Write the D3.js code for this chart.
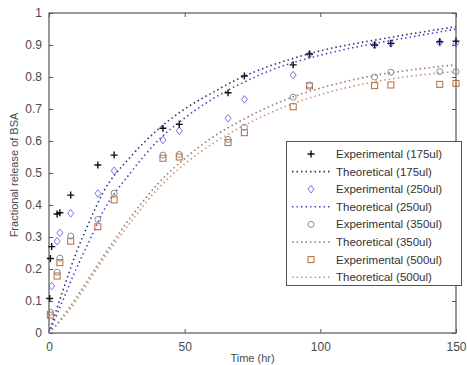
<!DOCTYPE html>
<html><head><meta charset="utf-8">
<script src="https://cdn.jsdelivr.net/npm/d3@7"></script>
<style>body{margin:0;background:#fff}svg{display:block;font-family:"Liberation Sans",Arial,sans-serif}</style>
</head><body><svg id="c" width="467" height="365"></svg>
<script>
// ---- data ----
const xTicks = [0, 50, 100, 150];
const yTicks = [0, 0.1, 0.2, 0.3, 0.4, 0.5, 0.6, 0.7, 0.8, 0.9, 1];
const yTickLabels = ["0", "0.1", "0.2", "0.3", "0.4", "0.5", "0.6", "0.7", "0.8", "0.9", "1"];

const exp175T = [0.25, 0.5, 1, 3, 4, 8, 18, 24, 42, 48, 66, 72, 90, 96, 120, 126, 144, 150];
const exp175V = [0.108, 0.233, 0.27, 0.372, 0.376, 0.431, 0.525, 0.556, 0.64, 0.652, 0.751, 0.803, 0.838, 0.872, 0.90, 0.905, 0.91, 0.912];
const exp250T = [1, 3, 4, 8, 18, 24, 42, 48, 66, 72, 90, 96, 120, 126, 144, 150];
const exp250V = [0.147, 0.287, 0.313, 0.374, 0.436, 0.507, 0.603, 0.632, 0.671, 0.73, 0.806, 0.87, 0.90, 0.905, 0.908, 0.905];
const exp350T = [0.5, 3, 4, 8, 18, 24, 42, 48, 66, 72, 90, 96, 120, 126, 144, 150];
const exp350V = [0.065, 0.19, 0.234, 0.303, 0.355, 0.437, 0.556, 0.558, 0.605, 0.643, 0.737, 0.775, 0.80, 0.815, 0.817, 0.817];
const exp500T = [0.5, 3, 4, 8, 18, 24, 42, 48, 66, 72, 90, 96, 120, 126, 144, 150];
const exp500V = [0.056, 0.178, 0.22, 0.287, 0.332, 0.416, 0.546, 0.55, 0.595, 0.626, 0.707, 0.772, 0.773, 0.775, 0.777, 0.78];

const thT = [0, 5, 10, 15, 20, 30, 40, 50, 60, 70, 80, 90, 100, 110, 120, 130, 140, 150];
const th175V = [0, 0.13, 0.25, 0.35, 0.44, 0.55, 0.635, 0.70, 0.75, 0.795, 0.83, 0.858, 0.882, 0.90, 0.915, 0.93, 0.944, 0.957];
const th250V = [0, 0.10, 0.20, 0.29, 0.38, 0.50, 0.60, 0.672, 0.73, 0.776, 0.815, 0.845, 0.868, 0.888, 0.905, 0.92, 0.935, 0.95];
const th350V = [0, 0.05, 0.11, 0.175, 0.24, 0.36, 0.465, 0.545, 0.61, 0.66, 0.703, 0.738, 0.765, 0.787, 0.805, 0.818, 0.829, 0.838];
const th500V = [0, 0.045, 0.10, 0.165, 0.23, 0.345, 0.45, 0.528, 0.59, 0.64, 0.682, 0.717, 0.745, 0.767, 0.785, 0.799, 0.809, 0.817];

const legendLabels = ["Experimental (175ul)", "Theoretical (175ul)", "Experimental (250ul)", "Theoretical (250ul)",
  "Experimental (350ul)", "Theoretical (350ul)", "Experimental (500ul)", "Theoretical (500ul)"];

// ---- styles ----
const colExp = {"175": "#111111", "250": "#7474ea", "350": "#8c8c8c", "500": "#b86a38"};
const colTh = {"175": "#34346e", "250": "#4646d2", "350": "#808080", "500": "#d4926a"};

const svg = d3.select("#c");
const L = 49, R = 456, T = 13, B = 333;
const x = d3.scaleLinear().domain([0, 150]).range([L, R]);
const y = d3.scaleLinear().domain([0, 1]).range([B, T]);
const axCol = "#555";

// axes box
svg.append("rect").attr("x", L).attr("y", T).attr("width", R - L).attr("height", B - T)
  .attr("fill", "none").attr("stroke", axCol).attr("stroke-width", 1.2);

const gx = svg.append("g").attr("transform", `translate(0,${B})`)
  .call(d3.axisBottom(x).tickValues(xTicks).tickSize(-4).tickPadding(9));
const gxt = svg.append("g").attr("transform", `translate(0,${T})`)
  .call(d3.axisTop(x).tickValues(xTicks).tickSize(-4).tickFormat(""));
const gy = svg.append("g").attr("transform", `translate(${L},0)`)
  .call(d3.axisLeft(y).tickValues(yTicks).tickSize(-4).tickPadding(7).tickFormat((d, i) => yTickLabels[i]));
const gyr = svg.append("g").attr("transform", `translate(${R},0)`)
  .call(d3.axisRight(y).tickValues(yTicks).tickSize(-4).tickFormat(""));
[gx, gxt, gy, gyr].forEach(g => {
  g.select(".domain").remove();
  g.selectAll("line").attr("stroke", axCol).attr("stroke-width", 1);
  g.selectAll("text").attr("fill", "#4a4a4a").attr("font-size", 12).attr("font-family", "Liberation Sans, Arial, sans-serif");
});

svg.append("text").attr("x", (L + R) / 2).attr("y", 362).attr("text-anchor", "middle")
  .attr("font-size", 11).attr("fill", "#4a4a4a").text("Time (hr)");
svg.append("text").attr("transform", "translate(18,175) rotate(-90)").attr("text-anchor", "middle")
  .attr("font-size", 11).attr("fill", "#4a4a4a").text("Fractional release of BSA");

// theoretical curves
const line = d3.line().x(d => x(d[0])).y(d => y(d[1])).curve(d3.curveMonotoneX);
const thSeries = [["175", th175V], ["250", th250V], ["350", th350V], ["500", th500V]];
thSeries.forEach(([k, v]) => {
  svg.append("path").datum(thT.map((t, i) => [t, v[i]])).attr("d", line)
    .attr("fill", "none").attr("stroke", colTh[k]).attr("stroke-width", 1.6)
    .attr("stroke-dasharray", "1.5,3").attr("stroke-linecap", "butt");
});

// markers
function marker(g, kind, cx, cy, col) {
  if (kind === "plus") {
    g.append("path").attr("d", `M${cx - 3.5},${cy}H${cx + 3.5}M${cx},${cy - 3.5}V${cy + 3.5}`)
      .attr("stroke", col).attr("stroke-width", 1.4).attr("fill", "none");
  } else if (kind === "diamond") {
    g.append("path").attr("d", `M${cx},${cy - 3.8}L${cx + 3},${cy}L${cx},${cy + 3.8}L${cx - 3},${cy}Z`)
      .attr("stroke", col).attr("stroke-width", 1).attr("fill", "none");
  } else if (kind === "circle") {
    g.append("circle").attr("cx", cx).attr("cy", cy).attr("r", 3)
      .attr("stroke", col).attr("stroke-width", 1).attr("fill", "none");
  } else {
    g.append("rect").attr("x", cx - 3).attr("y", cy - 3).attr("width", 6).attr("height", 6)
      .attr("stroke", col).attr("stroke-width", 1).attr("fill", "none");
  }
}
const expSeries = [["500", "square", exp500T, exp500V], ["350", "circle", exp350T, exp350V],
  ["250", "diamond", exp250T, exp250V], ["175", "plus", exp175T, exp175V]];
const gm = svg.append("g");
expSeries.forEach(([k, kind, ts, vs]) => {
  ts.forEach((t, i) => marker(gm, kind, x(t), y(vs[i]), colExp[k]));
});

// legend
const lg = svg.append("g");
lg.append("rect").attr("x", 286.5).attr("y", 141.5).attr("width", 175).attr("height", 144)
  .attr("fill", "#fff").attr("stroke", axCol).attr("stroke-width", 1);
const legendKeys = ["175", "175", "250", "250", "350", "350", "500", "500"];
const legendKinds = ["plus", null, "diamond", null, "circle", null, "square", null];
legendLabels.forEach((lab, i) => {
  const cy = 154 + i * 17.6;
  const k = legendKeys[i];
  if (legendKinds[i]) {
    marker(lg, legendKinds[i], 311, cy, colExp[k]);
  } else {
    lg.append("path").attr("d", `M292,${cy}H330`).attr("stroke", colTh[k]).attr("stroke-width", 1.6)
      .attr("stroke-dasharray", "1.5,3").attr("fill", "none");
  }
  lg.append("text").attr("x", 336).attr("y", cy + 4).attr("font-size", 11.5).attr("fill", "#333").text(lab);
});
</script></body></html>
